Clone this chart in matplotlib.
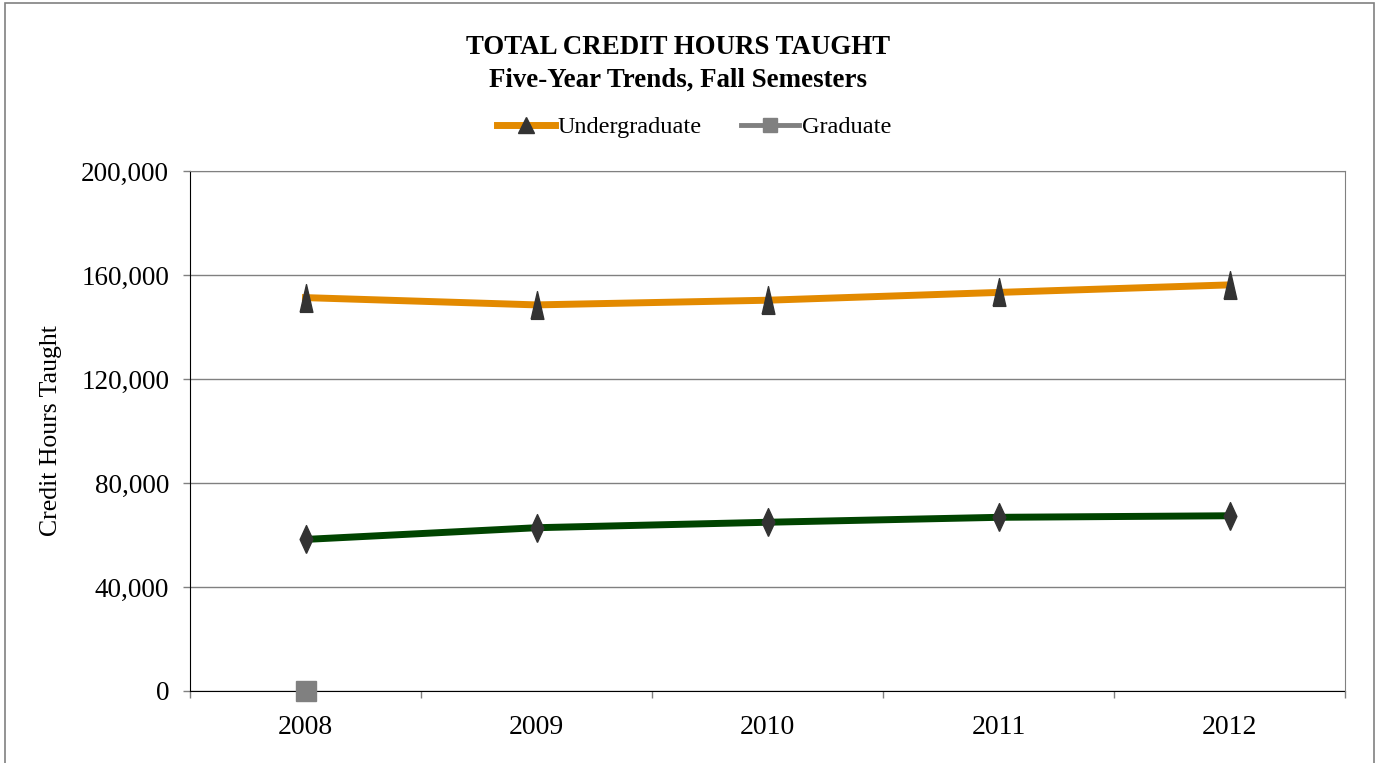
import numpy as np
import matplotlib
matplotlib.use("Agg")
import matplotlib.pyplot as plt
from matplotlib.lines import Line2D
from matplotlib.patches import Rectangle
from matplotlib.ticker import FuncFormatter, FixedLocator

# Data
years = ["2008", "2009", "2010", "2011", "2012"]
undergraduate = [151300, 148500, 150300, 153300, 156200]
graduate = [0, np.nan, np.nan, np.nan, np.nan]
total_other = [58300, 62800, 64900, 66800, 67400]

plt.rcParams['font.family'] = ['Liberation Serif', 'DejaVu Serif']

orange = '#E38A00'
green = '#004400'
dark = '#333333'
gray = '#808080'

# narrow markers as in the original
tri = [(-0.23, -0.5), (0.23, -0.5), (0, 0.5), (-0.23, -0.5)]
diamond = [(0, -0.5), (0.23, 0), (0, 0.5), (-0.23, 0), (0, -0.5)]

fig = plt.figure(figsize=(13.79, 7.63), dpi=100)
ax = fig.add_axes([190/1379, 72/763, (1345-190)/1379, (691-171)/763])

x = np.arange(len(years))
ax.plot(x, undergraduate, color=orange, lw=5, marker=tri, ms=20,
        mfc=dark, mec=dark, zorder=3)
ax.plot(x, total_other, color=green, lw=5, marker=diamond, ms=20,
        mfc=dark, mec=dark, zorder=3)
ax.plot(x, graduate, color=gray, lw=3.5, marker='s', ms=15,
        mfc=gray, mec=gray, zorder=4, clip_on=False)

ax.set_xlim(-0.5, len(years) - 0.5)
ax.set_ylim(0, 200000)
ax.set_yticks(range(0, 200001, 40000))
ax.yaxis.set_major_formatter(FuncFormatter(lambda v, p: f"{int(v):,}"))
ax.set_xticks(x)
ax.set_xticklabels(years)
ax.xaxis.set_minor_locator(FixedLocator(np.arange(-0.5, len(years), 1.0)))
ax.tick_params(axis='x', which='major', length=0, pad=17, labelsize=20)
ax.tick_params(axis='x', which='minor', length=5, width=1, color=gray, direction='out')
ax.tick_params(axis='y', length=5, width=1, color=gray, direction='out', pad=10, labelsize=19.5)

ax.grid(axis='y', color=gray, lw=1)
ax.set_axisbelow(True)
ax.spines['left'].set_color('black')
ax.spines['bottom'].set_color('black')
ax.spines['bottom'].set_zorder(2)
ax.spines['top'].set_color(gray)
ax.spines['right'].set_color(gray)

ax.set_ylabel("Credit Hours Taught", fontsize=18.5, labelpad=14)

fig.text(678/1379, 1 - 48/763, "TOTAL CREDIT HOURS TAUGHT", ha='center', va='center',
         fontsize=19.4, fontweight='bold')
fig.text(678/1379, 1 - 80/763, "Five-Year Trends, Fall Semesters", ha='center', va='center',
         fontsize=19.4, fontweight='bold')

handles = [
    Line2D([], [], color=orange, lw=5, marker='^', ms=12, mfc=dark, mec=dark),
    Line2D([], [], color=gray, lw=3.5, marker='s', ms=10, mfc=gray, mec=gray),
]
fig.legend(handles, ["Undergraduate", "Graduate"], loc='center', ncol=2,
           bbox_to_anchor=(694/1379, 1 - 127/763), frameon=False, fontsize=17.5,
           handlelength=2.4, handletextpad=0.1, columnspacing=1.6)

# outer chart border
fig.patches.append(Rectangle((5/1379, -0.05), (1374-5)/1379, 1.05 - 3/763,
                             transform=fig.transFigure, fill=False, ec=gray, lw=1.2))

fig.savefig("out.png", dpi=100)
